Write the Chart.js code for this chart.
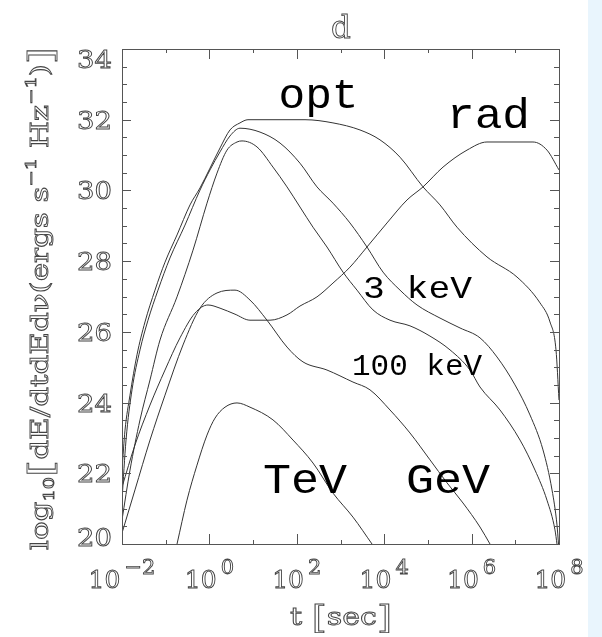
<!DOCTYPE html>
<html lang="en">
<head>
  <meta charset="UTF-8">
  <title>d</title>
  <script src="https://cdn.jsdelivr.net/npm/chart.js"></script>
  <style>
    html, body { margin: 0; padding: 0; background: #fff; }
    #wrap { position: relative; width: 602px; height: 637px; overflow: hidden; }
    #strip { position: absolute; left: 588px; top: 0; width: 14px; height: 637px; background: #e9f5fd; }
    canvas { position: absolute; left: 0; top: 0; }
  </style>
</head>
<body>
<div id="wrap">
  <div id="strip"></div>
  <canvas id="chart" width="602" height="637"></canvas>
</div>

<script>
  // log10(t [sec]) and log10(dE/dtdEdnu)
  const optLgT = [-2.0, -1.931, -1.817, -1.657, -1.474, -1.245, -1.016, -0.741, -0.444, -0.215, 0.014, 0.243, 0.471, 0.700, 0.883, 2.188, 2.828, 3.446, 3.904, 4.362, 4.888, 5.277, 5.666, 6.352, 7.039, 7.565, 7.794, 7.931, 8.0];
  const optL   = [22.09, 23.22, 24.21, 25.35, 26.28, 27.18, 27.97, 28.74, 29.59, 30.07, 30.63, 31.20, 31.71, 31.91, 32.0, 32.0, 31.91, 31.71, 31.43, 30.94, 30.10, 29.59, 28.96, 28.12, 27.55, 26.82, 26.28, 25.49, 24.07];

  const radLgT = [-2.0, -1.703, -1.359, -1.016, -0.673, -0.330, -0.032, 0.243, 0.586, 0.929, 1.387, 1.776, 2.073, 2.462, 2.828, 3.217, 3.606, 4.064, 4.522, 4.888, 5.346, 5.895, 6.352, 6.879, 7.405, 7.725, 8.0];
  const radL   = [21.61, 22.80, 23.93, 24.92, 25.83, 26.53, 26.76, 26.67, 26.50, 26.33, 26.33, 26.48, 26.73, 26.99, 27.38, 27.83, 28.40, 29.08, 29.73, 30.10, 30.66, 31.14, 31.37, 31.37, 31.37, 31.14, 30.58];

  const kev3LgT = [-2.0, -1.908, -1.771, -1.588, -1.405, -1.176, -0.902, -0.558, -0.215, 0.014, 0.243, 0.471, 0.700, 1.158, 1.616, 2.073, 2.462, 2.828, 3.217, 3.606, 3.973, 4.362, 4.751, 5.277, 5.735, 6.192, 6.581, 6.993, 7.336, 7.634, 7.840, 7.954, 7.989];
  const kev3L   = [21.24, 22.94, 24.36, 25.49, 26.33, 27.18, 28.09, 29.02, 30.01, 30.58, 31.09, 31.54, 31.76, 31.65, 31.34, 30.77, 30.10, 29.64, 29.08, 28.40, 27.69, 27.18, 26.76, 26.39, 26.11, 25.83, 25.29, 24.50, 23.65, 22.66, 21.53, 20.54, 20.0];

  const kev100LgT = [-2.0, -1.817, -1.588, -1.359, -1.130, -0.741, -0.375, -0.055, 0.174, 0.403, 0.632, 0.746, 1.089, 1.455, 1.776, 2.073, 2.371, 2.691, 3.057, 3.378, 3.744, 4.133, 4.590, 5.048, 5.506, 5.963, 6.192, 6.650, 7.108, 7.451, 7.725, 7.908, 7.954];
  const kev100L   = [20.68, 22.09, 23.51, 24.64, 25.77, 26.99, 28.31, 29.64, 30.49, 31.14, 31.37, 31.40, 31.23, 30.66, 30.10, 29.53, 28.96, 28.40, 27.69, 27.18, 26.62, 26.33, 26.17, 25.88, 25.49, 24.92, 24.44, 23.79, 22.94, 22.09, 21.24, 20.40, 20.0];

  const gevLgT = [-2.0, -1.703, -1.359, -1.016, -0.604, -0.215, 0.174, 0.586, 0.929, 1.318, 1.776, 2.142, 2.691, 3.286, 3.675, 4.133, 4.590, 5.048, 5.437, 5.803, 6.192, 6.421];
  const gevL   = [20.31, 21.53, 22.94, 24.21, 25.63, 26.67, 27.10, 27.18, 26.90, 26.33, 25.57, 25.15, 24.92, 24.58, 24.36, 23.79, 23.14, 22.38, 21.73, 21.16, 20.48, 20.0];

  const tevLgT = [-0.741, -0.513, -0.284, -0.055, 0.128, 0.357, 0.632, 0.929, 1.455, 1.913, 2.371, 2.828, 3.286, 3.721];
  const tevL   = [20.0, 21.24, 22.23, 23.08, 23.56, 23.87, 23.99, 23.87, 23.51, 22.94, 22.29, 21.44, 20.76, 20.0];

  // curve labels, placed in data coordinates (log10 t, value at text baseline)
  const labelText = ['opt', 'rad', '3 keV', '100 keV', 'TeV', 'GeV'];
  const labelLgT  = [2.497, 6.387, 4.762, 4.751, 2.188, 5.460];
  const labelL    = [32.33, 31.76, 26.96, 24.78, 21.44, 21.44];

  const xTickExp  = [-2, -1, 0, 1, 2, 3, 4, 5, 6, 7, 8];
  const xLabelExp = [-2, 0, 2, 4, 6, 8];
  const yLabels   = [20, 22, 24, 26, 28, 30, 32, 34];

  const toPoints = (lg, v) => lg.map((e, i) => ({ x: Math.pow(10, e), y: v[i] }));

  const series = [
    [optLgT, optL], [radLgT, radL], [kev3LgT, kev3L],
    [kev100LgT, kev100L], [gevLgT, gevL], [tevLgT, tevL]
  ];

  const AXIS = '#555';
  const serif = s => s + 'px "DejaVu Serif"';

  function drawStretched(ctx, text, cx, y, k) {
    const w = ctx.measureText(text).width;
    ctx.save();
    ctx.translate(cx, y);
    ctx.scale(k, 1);
    ctx.strokeText(text, -w / 2, 0);
    ctx.restore();
  }

  // draw pieces [text, size, dy] in a row, stretched to a given length
  function drawPieces(ctx, pieces, length) {
    let total = 0;
    pieces.forEach(p => { ctx.font = serif(p[1]); total += ctx.measureText(p[0]).width; });
    const k = length / total;
    ctx.scale(k, 1);
    let pos = 0;
    pieces.forEach(p => {
      ctx.font = serif(p[1]);
      ctx.strokeText(p[0], pos, p[2]);
      pos += ctx.measureText(p[0]).width;
    });
  }

  const framePlugin = {
    id: 'frame',
    afterDraw(chart) {
      const { ctx, chartArea: a, scales: { x, y } } = chart;
      ctx.save();

      // box
      ctx.strokeStyle = AXIS;
      ctx.lineWidth = 1;
      ctx.strokeRect(a.left + 0.5, a.top + 0.5, a.right - a.left, a.bottom - a.top);

      // inward ticks
      ctx.beginPath();
      xTickExp.forEach(e => {
        const px = Math.round(x.getPixelForValue(Math.pow(10, e))) + 0.5;
        const len = e % 2 === 0 ? 10 : 4;
        ctx.moveTo(px, a.top); ctx.lineTo(px, a.top + len);
        ctx.moveTo(px, a.bottom); ctx.lineTo(px, a.bottom - len);
      });
      for (let v = 20; v <= 34; v += 0.5) {
        const py = Math.round(y.getPixelForValue(v)) + 0.5;
        const len = v % 2 === 0 ? 9 : 5;
        ctx.moveTo(a.left, py); ctx.lineTo(a.left + len, py);
        ctx.moveTo(a.right, py); ctx.lineTo(a.right - len, py);
      }
      ctx.stroke();

      // tick labels, hollow serif like the original
      ctx.strokeStyle = '#444';
      ctx.lineWidth = 0.9;
      ctx.textBaseline = 'alphabetic';
      ctx.font = serif(25);
      yLabels.forEach(v => {
        const py = y.getPixelForValue(v);
        const cy = Math.min(Math.max(py, a.top + 10), a.bottom - 7);
        const t = String(v);
        const w = ctx.measureText(t).width * 1.1;
        ctx.save();
        ctx.translate(112 - w, cy + 9);
        ctx.scale(1.1, 1);
        ctx.strokeText(t, 0, 0);
        ctx.restore();
      });

      xLabelExp.forEach(e => {
        const px = x.getPixelForValue(Math.pow(10, e));
        const ex = (e < 0 ? '\u2212' : '') + Math.abs(e);
        ctx.font = serif(25);
        const w1 = ctx.measureText('10').width;
        ctx.font = serif(21);
        const w2 = ctx.measureText(ex).width;
        const start = px - (w1 + 4 + w2) / 2;
        ctx.font = serif(25);
        ctx.strokeText('10', start, 588);
        ctx.font = serif(21);
        ctx.strokeText(ex, start + w1 + 4, 574);
      });

      // title
      ctx.font = serif(31);
      drawStretched(ctx, 'd', 341, 38, 1);

      // x title
      ctx.save();
      ctx.translate(290, 625);
      drawPieces(ctx, [['t ', 25, 0], ['[', 32, 3], ['sec', 25, 0], [']', 32, 3]], 102);
      ctx.restore();

      // y title, rotated
      ctx.save();
      ctx.translate(48, 550);
      ctx.rotate(-Math.PI / 2);
      drawPieces(ctx, [
        ['log', 24, 0], ['10', 15, 6], ['[', 34, 4],
        ['dE/dtdEd\u03BD(ergs s', 24, 0], ['\u22121', 15, -12],
        [' Hz', 24, 0], ['\u22121', 15, -12], [')', 24, 0], [']', 34, 4]
      ], 503);
      ctx.restore();

      // curve labels
      const sizes = [42, 42, 32, 29, 42, 42];
      const widths = [80, 83, 109, 130, 84, 84];
      ctx.fillStyle = '#000';
      labelText.forEach((t, i) => {
        const px = x.getPixelForValue(Math.pow(10, labelLgT[i]));
        const py = y.getPixelForValue(labelL[i]);
        ctx.font = sizes[i] + 'px "Liberation Mono"';
        const w = ctx.measureText(t).width;
        const k = widths[i] / w;
        ctx.save();
        ctx.translate(px, py);
        ctx.scale(k, 1);
        ctx.fillText(t, -w / 2, 0);
        ctx.restore();
      });

      ctx.restore();
    }
  };

  new Chart(document.getElementById('chart'), {
    type: 'line',
    data: {
      datasets: series.map(s => ({
        data: toPoints(s[0], s[1]),
        borderColor: '#333',
        borderWidth: 1,
        pointRadius: 0,
        fill: false,
        cubicInterpolationMode: 'monotone'
      }))
    },
    options: {
      responsive: false,
      animation: false,
      layout: { padding: { left: 122, top: 49, right: 43, bottom: 93 } },
      plugins: { legend: { display: false }, tooltip: { enabled: false } },
      scales: {
        x: { type: 'logarithmic', min: 1e-2, max: 1e8, display: false },
        y: { min: 20, max: 34, display: false }
      }
    },
    plugins: [framePlugin]
  });
</script>
</body>
</html>
